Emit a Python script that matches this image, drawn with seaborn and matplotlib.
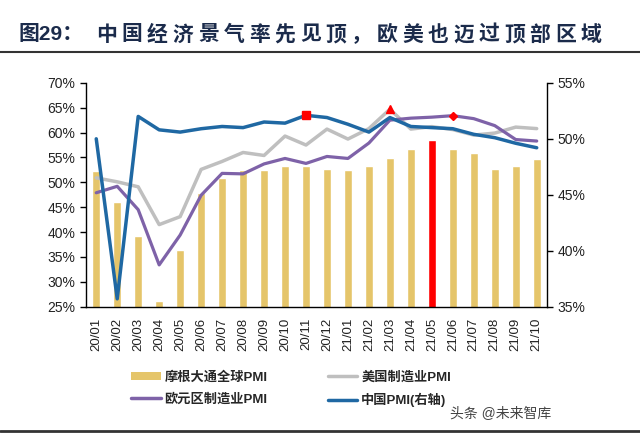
import numpy as np
import pandas as pd
import matplotlib
matplotlib.use("Agg")
import matplotlib.pyplot as plt
import seaborn as sns
from matplotlib.patches import Patch
from matplotlib.lines import Line2D
from matplotlib.ticker import FuncFormatter

# ---------------- data ----------------
months = ["20/01", "20/02", "20/03", "20/04", "20/05", "20/06", "20/07", "20/08",
          "20/09", "20/10", "20/11", "20/12", "21/01", "21/02", "21/03", "21/04",
          "21/05", "21/06", "21/07", "21/08", "21/09", "21/10"]
jpm_global = [52.2, 46.1, 39.3, 26.2, 36.3, 47.8, 50.9, 52.4, 52.4, 53.3, 53.2, 52.7,
              52.4, 53.2, 54.9, 56.8, 58.5, 56.6, 55.8, 52.6, 53.3, 54.6]
us_pmi = [50.9, 50.1, 49.1, 41.5, 43.1, 52.6, 54.2, 56.0, 55.4, 59.3, 57.5, 60.7,
          58.7, 60.8, 64.7, 60.7, 61.2, 60.6, 59.5, 59.9, 61.1, 60.8]
ez_pmi = [47.9, 49.2, 44.5, 33.4, 39.4, 47.4, 51.8, 51.7, 53.7, 54.8, 53.8, 55.2,
          54.8, 57.9, 62.5, 62.9, 63.1, 63.4, 62.8, 61.4, 58.6, 58.3]
china_pmi = [50.0, 35.7, 52.0, 50.8, 50.6, 50.9, 51.1, 51.0, 51.5, 51.4, 52.1, 51.9,
             51.3, 50.6, 51.9, 51.1, 51.0, 50.9, 50.4, 50.1, 49.6, 49.2]
highlight_bar = "21/05"
peak_china = "20/11"
peak_us = "21/03"
peak_ez = "21/06"

title_head = "图29："
title_tail = "中国经济景气率先见顶，欧美也迈过顶部区域"
legend_labels = ["摩根大通全球PMI", "欧元区制造业PMI", "美国制造业PMI", "中国PMI(右轴)"]
watermark = "头条 @未来智库"

# ---------------- style ----------------
sns.set_style("white")
plt.rcParams["font.family"] = ["Liberation Sans", "Noto Sans CJK SC", "DejaVu Sans"]

C_BAR = "#E5C56A"
C_RED = "#FF0000"
C_GRAY = "#BFBFBF"
C_PURPLE = "#7E62A8"
C_BLUE = "#1F68A3"

x = np.arange(len(months))
df = pd.DataFrame({"idx": x, "month": months, "jpm": jpm_global, "us": us_pmi,
                   "ez": ez_pmi, "china": china_pmi})

fig = plt.figure(figsize=(6.4, 4.36), dpi=100)
ax = fig.add_axes([0.134, 0.2966, 0.721, 0.5134])

palette = {m: (C_RED if m == highlight_bar else C_BAR) for m in months}
sns.barplot(data=df, x="month", y="jpm", hue="month", palette=palette, order=months,
            hue_order=months, width=0.4, dodge=False, legend=False, ax=ax,
            saturation=1)

sns.lineplot(data=df, x="idx", y="us", color=C_GRAY, lw=2.5, ax=ax)
sns.lineplot(data=df, x="idx", y="ez", color=C_PURPLE, lw=2.3, ax=ax)

i_us = months.index(peak_us)
i_ez = months.index(peak_ez)
ax.plot(x[i_us], us_pmi[i_us], marker="^", color=C_RED, ms=6, ls="none", zorder=5)
ax.plot(x[i_ez], ez_pmi[i_ez], marker="D", color=C_RED, ms=4.5, ls="none", zorder=5)

ax.set_ylim(25, 70)
ax.set_xlim(-0.5, len(months) - 0.5)
ax.set_yticks(np.arange(25, 71, 5))
ax.yaxis.set_major_formatter(FuncFormatter(lambda v, p: f"{v:.0f}%"))

ax2 = ax.twinx()
sns.lineplot(data=df, x="idx", y="china", color=C_BLUE, lw=2.5, ax=ax2)
i_cn = months.index(peak_china)
ax2.plot(x[i_cn], china_pmi[i_cn], marker="s", color=C_RED, ms=6, ls="none", zorder=5)
ax2.set_ylim(35, 55)
ax2.set_yticks(np.arange(35, 56, 5))
ax2.yaxis.set_major_formatter(FuncFormatter(lambda v, p: f"{v:.0f}%"))
ax2.set_xlim(-0.5, len(months) - 0.5)

for a in (ax, ax2):
    a.set_xlabel("")
    a.set_ylabel("")
    a.grid(False)
    for s in a.spines.values():
        s.set_color("black")
        s.set_linewidth(1.0)
    a.spines["top"].set_visible(False)

ax.spines["right"].set_visible(False)
ax2.spines["left"].set_visible(False)
ax2.spines["bottom"].set_visible(False)

ax.set_xticks(x)
ax.set_xticklabels(months, rotation=90, fontsize=9.5, color="#222222")
ax.set_xticks(np.arange(-0.5, len(months), 1.0), minor=True)
ax.tick_params(axis="x", which="major", length=0, pad=8)
ax.tick_params(axis="x", which="minor", length=4, width=1, color="black", direction="out")
ax.tick_params(axis="y", which="major", length=4, width=1, color="black",
               direction="out", labelsize=10, left=True, labelcolor="#222222")
ax2.tick_params(axis="y", which="major", length=4, width=1, color="black",
                direction="out", labelsize=10, right=True, labelcolor="#222222")

# legend
handles = [Patch(facecolor=C_BAR, edgecolor="none"),
           Line2D([], [], color=C_PURPLE, lw=2.5),
           Line2D([], [], color=C_GRAY, lw=2.5),
           Line2D([], [], color=C_BLUE, lw=2.5)]
fig.legend(handles, legend_labels, ncol=2, loc="center", bbox_to_anchor=(0.455, 0.107),
           frameon=False, prop={"size": 9.5, "weight": "bold"}, handlelength=2.2,
           handleheight=0.6, handletextpad=0.3, columnspacing=4.6, labelspacing=0.7)

# title
fig.text(18 / 640, 1 - 35 / 436, title_head, fontsize=15, fontweight="bold",
         color="#1B2B4B", va="center", ha="left")
for k, ch in enumerate(title_tail):
    fig.text((96 + k * 25.5) / 640, 1 - 35 / 436, ch, fontsize=15, fontweight="bold",
             color="#1B2B4B", va="center", ha="left")
fig.add_artist(Line2D([0.0, 1.0], [1 - 52 / 436, 1 - 52 / 436], color="#333333",
                      lw=1.5, transform=fig.transFigure))
fig.add_artist(Line2D([0.0, 1.0], [1 - 431 / 436, 1 - 431 / 436], color="#333333",
                      lw=2.0, transform=fig.transFigure))

fig.text(450 / 640, 1 - 414 / 436, watermark, fontsize=10, color="#444444",
         va="center", ha="left")

fig.savefig("out.png", dpi=100)
